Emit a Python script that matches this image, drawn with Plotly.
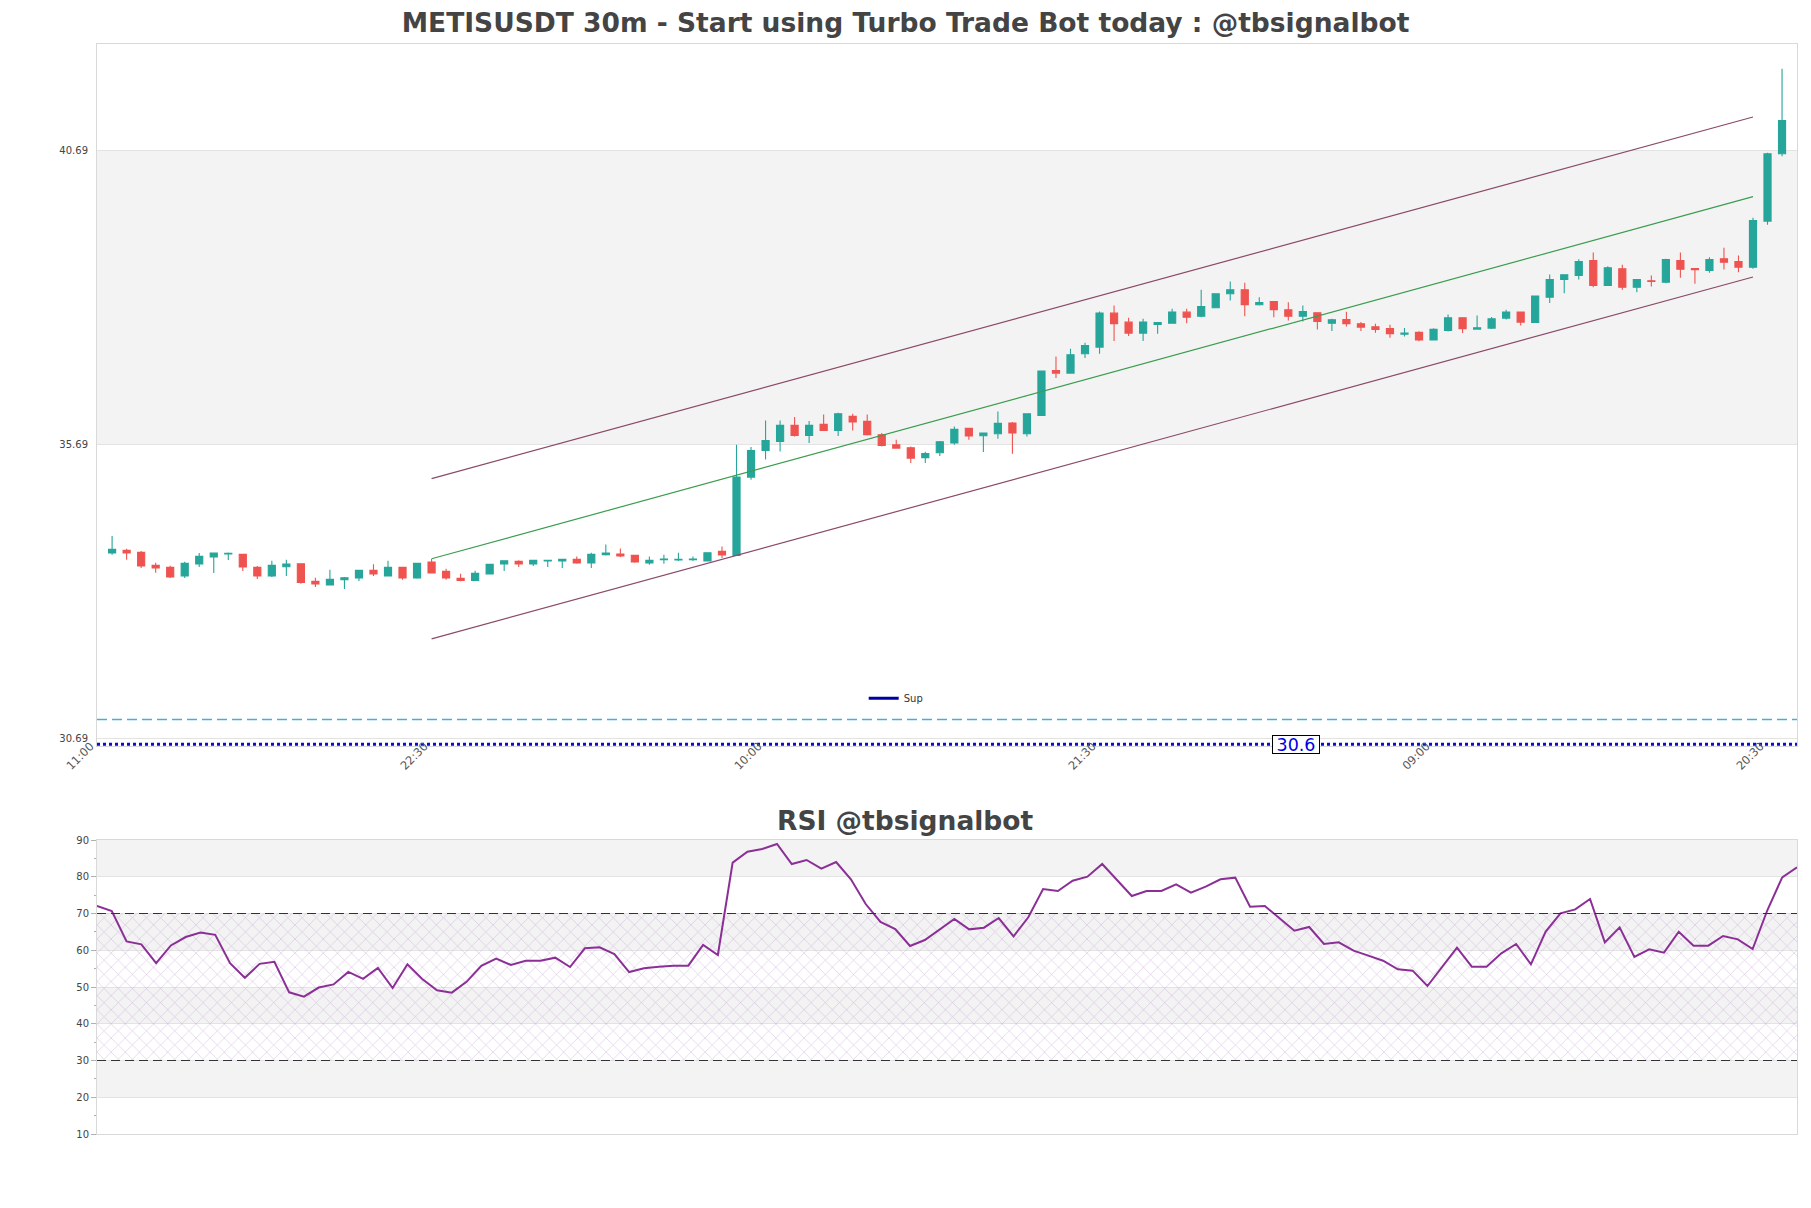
import plotly.graph_objects as go

# ---------------- data ----------------
tick_idx = [-1, 22, 45, 68, 91, 114]
tick_text = ["11:00", "22:30", "10:00", "21:30", "09:00", "20:30"]

opens = [33.849, 33.894, 33.860, 33.640, 33.606, 33.458, 33.662, 33.781, 33.832, 33.826,
         33.606, 33.458, 33.617, 33.668, 33.368, 33.306, 33.396, 33.424, 33.555, 33.458,
         33.606, 33.424, 33.696, 33.538, 33.419, 33.385, 33.492, 33.662, 33.707, 33.662,
         33.713, 33.713, 33.741, 33.679, 33.821, 33.832, 33.809, 33.679, 33.736, 33.730,
         33.736, 33.713, 33.877, 33.809, 35.140, 35.593, 35.746, 36.018, 35.848, 36.035,
         35.933, 36.171, 36.086, 35.860, 35.690, 35.638, 35.470, 35.554, 35.718, 35.967,
         35.842, 35.876, 36.058, 35.876, 36.188, 36.952, 36.907, 37.236, 37.349, 37.926,
         37.773, 37.587, 37.734, 37.756, 37.943, 37.875, 38.017, 38.255, 38.323, 38.068,
         38.125, 37.983, 37.875, 37.932, 37.756, 37.819, 37.745, 37.694, 37.666, 37.570,
         37.600, 37.470, 37.632, 37.847, 37.655, 37.672, 37.842, 37.944, 37.768, 38.198,
         38.499, 38.566, 38.821, 38.397, 38.680, 38.368, 38.476, 38.453, 38.821, 38.685,
         38.651, 38.850, 38.804, 38.708, 39.490, 40.634]
highs = [34.138, 33.923, 33.883, 33.685, 33.634, 33.702, 33.849, 33.860, 33.860, 33.832,
         33.628, 33.719, 33.736, 33.674, 33.430, 33.566, 33.441, 33.566, 33.657, 33.719,
         33.606, 33.685, 33.747, 33.583, 33.498, 33.549, 33.668, 33.725, 33.725, 33.736,
         33.730, 33.747, 33.792, 33.855, 33.996, 33.928, 33.815, 33.792, 33.821, 33.855,
         33.792, 33.860, 33.962, 35.690, 35.650, 36.103, 36.103, 36.160, 36.092, 36.205,
         36.233, 36.216, 36.205, 35.888, 35.774, 35.661, 35.570, 35.752, 36.001, 35.973,
         35.888, 36.256, 36.075, 36.216, 36.941, 37.190, 37.320, 37.422, 37.955, 38.057,
         37.847, 37.830, 37.773, 38.000, 38.000, 38.323, 38.255, 38.464, 38.442, 38.198,
         38.130, 38.113, 38.057, 37.943, 37.830, 37.950, 37.774, 37.745, 37.728, 37.672,
         37.620, 37.670, 37.904, 37.847, 37.887, 37.859, 37.983, 37.944, 38.227, 38.583,
         38.583, 38.844, 38.957, 38.725, 38.748, 38.504, 38.566, 38.850, 38.957, 38.685,
         38.878, 39.037, 38.907, 39.546, 40.650, 42.078]
lows = [33.821, 33.736, 33.594, 33.515, 33.424, 33.424, 33.611, 33.509, 33.730, 33.543,
        33.408, 33.441, 33.458, 33.328, 33.271, 33.300, 33.237, 33.373, 33.458, 33.458,
        33.396, 33.413, 33.509, 33.396, 33.368, 33.385, 33.492, 33.543, 33.611, 33.628,
        33.611, 33.594, 33.668, 33.594, 33.809, 33.781, 33.685, 33.651, 33.668, 33.713,
        33.713, 33.707, 33.764, 33.809, 35.095, 35.440, 35.576, 35.831, 35.718, 35.922,
        35.837, 35.933, 35.848, 35.661, 35.633, 35.378, 35.380, 35.497, 35.690, 35.774,
        35.565, 35.791, 35.537, 35.831, 36.177, 36.822, 36.896, 37.162, 37.236, 37.451,
        37.536, 37.451, 37.575, 37.745, 37.756, 37.858, 38.017, 38.142, 37.875, 38.057,
        37.858, 37.802, 37.785, 37.649, 37.621, 37.700, 37.621, 37.592, 37.507, 37.530,
        37.450, 37.460, 37.615, 37.587, 37.643, 37.655, 37.819, 37.717, 37.757, 38.097,
        38.266, 38.499, 38.368, 38.397, 38.323, 38.283, 38.380, 38.436, 38.527, 38.425,
        38.612, 38.668, 38.623, 38.680, 39.427, 40.594]
closes = [33.911, 33.849, 33.628, 33.594, 33.441, 33.674, 33.792, 33.849, 33.843, 33.611,
          33.458, 33.640, 33.662, 33.351, 33.323, 33.402, 33.430, 33.555, 33.492, 33.606,
          33.424, 33.674, 33.509, 33.424, 33.385, 33.504, 33.657, 33.719, 33.662, 33.725,
          33.725, 33.741, 33.679, 33.826, 33.849, 33.798, 33.696, 33.725, 33.747, 33.741,
          33.747, 33.855, 33.815, 35.140, 35.593, 35.763, 36.018, 35.848, 36.018, 35.933,
          36.216, 36.075, 35.860, 35.678, 35.633, 35.463, 35.540, 35.741, 35.950, 35.837,
          35.888, 36.052, 35.888, 36.216, 36.941, 36.907, 37.219, 37.377, 37.926, 37.745,
          37.587, 37.773, 37.768, 37.943, 37.858, 38.040, 38.255, 38.323, 38.068, 38.108,
          37.983, 37.875, 37.955, 37.785, 37.813, 37.745, 37.689, 37.649, 37.575, 37.587,
          37.470, 37.650, 37.847, 37.660, 37.677, 37.830, 37.944, 37.774, 38.215, 38.499,
          38.578, 38.804, 38.397, 38.697, 38.368, 38.499, 38.465, 38.838, 38.674, 38.663,
          38.838, 38.793, 38.708, 39.501, 40.634, 41.200]

rsi = [72.04, 70.68, 62.4, 61.6, 56.5, 61.3, 63.6, 64.8, 64.2, 56.5,
       52.5, 56.3, 56.85, 48.55, 47.37, 49.85, 50.7, 54.1, 52.2, 55.2,
       49.73, 56.17, 52.2, 49.1, 48.46, 51.4, 55.75, 57.75, 55.99, 57.16,
       57.16, 57.98, 55.44, 60.52, 60.79, 58.98, 54.08, 55.08, 55.53, 55.8,
       55.8, 61.43, 58.71, 83.83, 86.82, 87.55, 88.91, 83.47, 84.56, 82.2,
       84.01, 79.3, 72.58, 67.69, 65.78, 61.16, 62.79, 65.6, 68.5, 65.69,
       66.14, 68.77, 63.79, 68.96, 76.67, 76.12, 78.93, 80.02, 83.47, 79.11,
       74.76, 76.12, 76.12, 77.94, 75.67, 77.3, 79.3, 79.75, 71.86, 72.04,
       68.68, 65.33, 66.33, 61.7, 62.15, 59.89, 58.53, 57.16, 54.81, 54.44,
       50.27, 55.53, 60.7, 55.53, 55.53, 59.16, 61.7, 56.17, 65.06, 70.04,
       71.13, 73.94, 62.15, 66.23, 58.16, 60.25, 59.34, 65.06, 61.25, 61.25,
       63.88, 62.97, 60.34, 70.95, 79.84, 82.56]

channel_x = [22, 113]
channel_upper = [35.115, 41.26]
channel_mid = [33.752, 39.905]
channel_lower = [32.39, 38.54]

sup_level = 30.6
dashed_level = 31.02
price_ticks = [30.69, 35.69, 40.69]
rsi_upper, rsi_lower = 70, 30

# ---------------- figure ----------------
idx = list(range(len(opens)))
rsi_idx = list(range(len(rsi)))
X_RANGE = [-1.04, 116.03]

fig = go.Figure()

fig.add_trace(go.Candlestick(
    x=idx, open=opens, high=highs, low=lows, close=closes,
    increasing=dict(line=dict(color="#26a69a", width=1.1), fillcolor="#26a69a"),
    decreasing=dict(line=dict(color="#ef5350", width=1.1), fillcolor="#ef5350"),
    whiskerwidth=0, showlegend=False, hoverinfo="skip", xaxis="x", yaxis="y"))

for ys, col in [(channel_upper, "#8a4a68"), (channel_mid, "#3a9d4f"), (channel_lower, "#8a4a68")]:
    fig.add_trace(go.Scatter(x=channel_x, y=ys, mode="lines", line=dict(color=col, width=1.2),
                             showlegend=False, hoverinfo="skip", xaxis="x", yaxis="y"))

fig.add_trace(go.Scatter(x=X_RANGE, y=[sup_level, sup_level], mode="lines",
                         line=dict(color="#0a0adc", width=3, dash="dot"),
                         showlegend=False, hoverinfo="skip", xaxis="x", yaxis="y"))
fig.add_trace(go.Scatter(x=[None], y=[None], mode="lines", name="Sup",
                         line=dict(color="#0000a0", width=3), xaxis="x", yaxis="y"))

# RSI hatch zone
fig.add_trace(go.Scatter(x=[0, 115, 115, 0, 0], y=[rsi_lower, rsi_lower, rsi_upper, rsi_upper, rsi_lower],
                         mode="lines", fill="toself", line=dict(width=0),
                         fillcolor="rgba(0,0,0,0)",
                         fillpattern=dict(shape="x", size=10, solidity=0.12,
                                          fgcolor="rgba(185,150,205,1)", fgopacity=0.55,
                                          bgcolor="rgba(0,0,0,0)"),
                         showlegend=False, hoverinfo="skip", xaxis="x2", yaxis="y2"))
fig.add_trace(go.Scatter(x=rsi_idx, y=rsi, mode="lines", line=dict(color="#8b2f97", width=2),
                         showlegend=False, hoverinfo="skip", xaxis="x2", yaxis="y2"))

shapes = [dict(type="rect", xref="x domain", yref="y", x0=0, x1=1, y0=price_ticks[1], y1=price_ticks[2],
               fillcolor="#f3f3f3", line=dict(width=0), layer="below"),
          dict(type="line", xref="x domain", yref="y", x0=0, x1=1, y0=dashed_level, y1=dashed_level,
               line=dict(color="#45aedb", width=1.5, dash="10px,5px"))]
for lo in [80, 60, 40, 20]:
    shapes.append(dict(type="rect", xref="x2 domain", yref="y2", x0=0, x1=1, y0=lo, y1=lo + 10,
                       fillcolor="#f3f3f3", line=dict(width=0), layer="below"))
for lv in [rsi_upper, rsi_lower]:
    shapes.append(dict(type="line", xref="x2 domain", yref="y2", x0=0, x1=1, y0=lv, y1=lv,
                       line=dict(color="#333333", width=1.2, dash="9px,5px")))

W, H = 1811, 1208
ML, MR, MT, MB = 97, 14, 44, 74
plot_h = H - MT - MB

annotations = [
    dict(text="RSI @tbsignalbot", xref="paper", yref="paper", x=(W / 2 - ML) / (W - ML - MR),
         y=(H - MB - 820) / plot_h, xanchor="center", yanchor="middle", showarrow=False,
         font=dict(family="DejaVu Sans", size=26.5, color="#444444", weight="bold")),
    dict(text="30.6", xref="x", yref="y", x=81.5, y=sup_level, xanchor="center", yanchor="middle",
         showarrow=False, font=dict(family="DejaVu Sans", size=17.5, color="#0000e6"),
         bgcolor="white", bordercolor="black", borderwidth=1, borderpad=0, width=46, height=17),
]

axis_line = dict(showline=True, mirror=True, linecolor="#d9d9d9", linewidth=1, zeroline=False)

fig.update_layout(
    width=W, height=H, autosize=False,
    margin=dict(l=ML, r=MR, t=MT, b=MB),
    paper_bgcolor="white", plot_bgcolor="white",
    font=dict(family="DejaVu Sans", color="#444444"),
    title=dict(text="METISUSDT 30m - Start using Turbo Trade Bot today : @tbsignalbot",
               x=0.5, xanchor="center", xref="container", y=1 - 23 / H, yref="container",
               yanchor="middle",
               font=dict(family="DejaVu Sans", size=26.5, color="#444444", weight="bold")),
    xaxis=dict(domain=[0, 1], anchor="y", range=X_RANGE, tickmode="array", tickvals=tick_idx,
               ticktext=tick_text, tickangle=-45, tickfont=dict(size=11.5, color="#555555"),
               ticklabelstandoff=-12, ticklabelshift=-7,
               showgrid=False, ticks="", rangeslider=dict(visible=False), automargin=False,
               **axis_line),
    yaxis=dict(domain=[(H - MB - 746) / plot_h, 1], anchor="x", range=[30.57, 42.5],
               tickmode="array", tickvals=price_ticks, ticktext=[f"{v:.2f}" for v in price_ticks],
               tickfont=dict(size=10, color="#444444"), showgrid=True, gridcolor="#e3e3e3",
               ticks="outside", ticklen=6, tickcolor="rgba(0,0,0,0)", automargin=False,
               **axis_line),
    xaxis2=dict(domain=[0, 1], anchor="y2", range=[0, 115], showticklabels=False, showgrid=False,
                ticks="", automargin=False, **axis_line),
    yaxis2=dict(domain=[0, (H - MB - 840) / plot_h], anchor="x2", range=[10, 90], dtick=10,
                tick0=10, tickfont=dict(size=10, color="#444444"), showgrid=True,
                gridcolor="#e3e3e3", ticks="outside", ticklen=5, tickcolor="#b0b0b0",
                minor=dict(ticks="outside", ticklen=2, dtick=5, tickcolor="#b0b0b0", showgrid=False),
                automargin=False, **axis_line),
    legend=dict(x=0.451, y=0.413, xanchor="left", yanchor="top", bgcolor="rgba(0,0,0,0)",
                font=dict(size=10, color="#333333"), itemwidth=30),
    shapes=shapes, annotations=annotations, hovermode=False,
)

fig.write_html("out.html")
